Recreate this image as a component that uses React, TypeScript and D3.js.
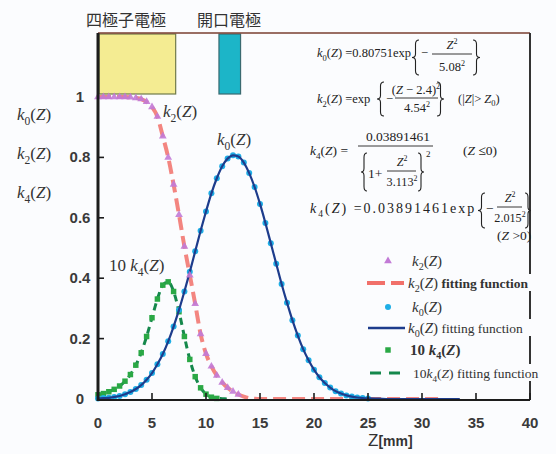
import React from "react";
import * as d3 from "d3";

// ---- data ----
const xTicks = [0, 5, 10, 15, 20, 25, 30, 35, 40];
const yTicks = [0, 0.2, 0.4, 0.6, 0.8, 1];
const yTickLabels = ["0", "0.2", "0.4", "0.6", "0.8", "1"];

// k2(Z) data points (pink triangles)
const k2Data: [number, number][] = [
  [0, 1], [0.5, 1], [1, 1], [1.5, 1], [2, 1], [2.5, 1], [3, 0.999], [3.5, 0.997],
  [4, 0.993], [4.5, 0.984], [5, 0.967], [5.5, 0.935], [6, 0.87], [6.5, 0.8],
  [7, 0.71], [7.5, 0.61], [8, 0.505], [8.5, 0.41], [9, 0.315], [9.5, 0.215],
  [10, 0.15], [10.5, 0.108], [11, 0.078], [11.5, 0.055], [12, 0.037], [12.5, 0.025], [13, 0.015],
];
const k2FitTail: [number, number][] = [[13.5, 0.008], [14, 0.003], [14.5, 0.001], [15, 0], [32, 0]];

// k0(Z) data points (cyan dots)
const k0Data: [number, number][] = [
  [0, 0.002], [0.5, 0.003], [1, 0.004], [1.5, 0.007], [2, 0.01], [2.5, 0.016], [3, 0.023],
  [3.5, 0.033], [4, 0.046], [4.5, 0.064], [5, 0.086], [5.5, 0.115], [6, 0.149], [6.5, 0.191],
  [7, 0.24], [7.5, 0.295], [8, 0.356], [8.5, 0.421], [9, 0.489], [9.5, 0.557], [10, 0.621],
  [10.5, 0.681], [11, 0.731], [11.5, 0.771], [12, 0.796], [12.5, 0.807], [13, 0.803],
  [13.5, 0.783], [14, 0.748], [14.5, 0.702], [15, 0.646], [15.5, 0.583], [16, 0.516],
  [16.5, 0.448], [17, 0.381], [17.5, 0.319], [18, 0.261], [18.5, 0.21], [19, 0.165],
  [19.5, 0.128], [20, 0.097], [20.5, 0.072], [21, 0.053], [21.5, 0.038], [22, 0.026],
  [22.5, 0.018], [23, 0.012], [23.5, 0.008], [24, 0.005], [24.5, 0.003], [25, 0.002],
];
const k0FitTail: [number, number][] = [[26, 0.001], [27, 0], [33.5, 0]];

// 10 k4(Z) data points (green squares)
const k4x10Data: [number, number][] = [
  [0, 0.014], [0.5, 0.018], [1, 0.024], [1.5, 0.032], [2, 0.043], [2.5, 0.059], [3, 0.081],
  [3.5, 0.112], [4, 0.153], [4.5, 0.207], [5, 0.269], [5.5, 0.331], [6, 0.377], [6.5, 0.388],
  [7, 0.356], [7.5, 0.289], [8, 0.207], [8.5, 0.131], [9, 0.074], [9.5, 0.037], [10, 0.016],
  [10.5, 0.006], [11, 0.002],
];
const k4x10FitTail: [number, number][] = [[11.5, 0.001], [12, 0]];

// electrodes drawn above the plot (Z ranges)
const quadElectrode: [number, number] = [0, 7.1];
const apertureElectrode: [number, number] = [11.2, 13.2];

const SERIF = "'Liberation Serif', 'DejaVu Serif', serif";
const SANS = "'Liberation Sans', Arial, sans-serif";
const CJK = "'Noto Sans CJK TC', 'Noto Sans CJK JP', sans-serif";

function brace(xl: number, xr: number, y0: number, y1: number, left: boolean) {
  const h = y1 - y0, m = (y0 + y1) / 2, xm = (xl + xr) / 2;
  if (left)
    return `M${xr},${y0} Q${xm},${y0} ${xm},${y0 + h * 0.12} L${xm},${m - h * 0.1} Q${xm},${m} ${xl},${m} Q${xm},${m} ${xm},${m + h * 0.1} L${xm},${y1 - h * 0.12} Q${xm},${y1} ${xr},${y1}`;
  return `M${xl},${y0} Q${xm},${y0} ${xm},${y0 + h * 0.12} L${xm},${m - h * 0.1} Q${xm},${m} ${xr},${m} Q${xm},${m} ${xm},${m + h * 0.1} L${xm},${y1 - h * 0.12} Q${xm},${y1} ${xl},${y1}`;
}

function KZ({ sub, fs }: { sub: string; fs: number }) {
  return (
    <>
      <tspan fontStyle="italic">k</tspan>
      <tspan dy={fs * 0.28} fontSize={fs * 0.68}>{sub}</tspan>
      <tspan dy={-fs * 0.28}>(</tspan>
      <tspan fontStyle="italic">Z</tspan>
      <tspan>)</tspan>
    </>
  );
}

// superscript placed at the end of a text
function Sup({ t, fs }: { t: string; fs: number }) {
  return <tspan dy={-fs * 0.4} fontSize={fs * 0.65}>{t}</tspan>;
}

export default function App() {
  const W = 556, H = 454;
  const x = d3.scaleLinear().domain([0, 40]).range([98, 530]);
  const y = d3.scaleLinear().domain([0, 1]).range([399, 97]);
  const top = 33;
  const line = d3.line<[number, number]>().x(d => x(d[0])).y(d => y(d[1])).curve(d3.curveMonotoneX);
  const tri = d3.symbol(d3.symbolTriangle, 26)()!;
  const sq = d3.symbol(d3.symbolSquare, 30)()!;

  const ink = "#222";
  const fs1 = 12.5, fs3 = 13.5;

  const redC = "#f1706a", pinkC = "#c27ad6", cyanC = "#1eaee6", blueC = "#1d3c8c", greenC = "#2aa845", greenD = "#15884c";

  const legendX = 388;
  const legendRows = [261, 283, 307, 328, 350, 373];

  return (
    <svg width={W} height={H} style={{ position: "fixed", left: 0, top: 0 }} xmlns="http://www.w3.org/2000/svg">
      <rect width={W} height={H} fill="#fbfcfe" />

      {/* electrode labels and boxes */}
      <text x={126} y={26} fontFamily={CJK} fontSize={16} fill="#333" textAnchor="middle">四極子電極</text>
      <text x={229} y={26} fontFamily={CJK} fontSize={16} fill="#333" textAnchor="middle">開口電極</text>
      <rect x={x(quadElectrode[0]) + 1} y={top + 1} width={x(quadElectrode[1]) - x(quadElectrode[0])} height={y(1) - top - 4}
        fill="#f4ec92" stroke="#6f7a4a" strokeWidth={1.2} />
      <rect x={x(apertureElectrode[0])} y={top + 1} width={x(apertureElectrode[1]) - x(apertureElectrode[0])} height={y(1) - top - 4}
        fill="#1cb5c8" stroke="#3a6a70" strokeWidth={1.2} />

      {/* frame */}
      <line x1={x(0)} x2={x(40)} y1={top} y2={top} stroke="#7a3f30" strokeWidth={1.6} />
      <line x1={x(40)} x2={x(40)} y1={top} y2={y(0) + 1} stroke="#333" strokeWidth={2} />

      {/* curves */}
      <path d={line([...k2Data, ...k2FitTail])!} fill="none" stroke={redC} strokeWidth={4} strokeDasharray="13 6" opacity={0.85} />
      <path d={line([...k4x10Data, ...k4x10FitTail])!} fill="none" stroke={greenD} strokeWidth={3} strokeDasharray="7 5" />
      {k4x10Data.map((d, i) => (
        <path key={"g" + i} d={sq} transform={`translate(${x(d[0])},${y(d[1])})`} fill={greenC} />
      ))}
      {k0Data.map((d, i) => (
        <circle key={"c" + i} cx={x(d[0])} cy={y(d[1])} r={3} fill={cyanC} />
      ))}
      <path d={line([...k0Data, ...k0FitTail])!} fill="none" stroke={blueC} strokeWidth={2.2} />
      {k2Data.map((d, i) => (
        <path key={"t" + i} d={tri} transform={`translate(${x(d[0])},${y(d[1])})`} fill={pinkC} opacity={0.9} />
      ))}

      {/* axes */}
      <line x1={x(0)} x2={x(0)} y1={top} y2={y(0) + 2} stroke="#1c1c1c" strokeWidth={3} />
      <line x1={x(0)} x2={x(40)} y1={y(0) + 1} y2={y(0) + 1} stroke="#1c1c1c" strokeWidth={2} />
      {xTicks.map(t => (
        <g key={"xt" + t}>
          <line x1={x(t)} x2={x(t)} y1={y(0) + 1} y2={y(0) - 6} stroke="#1c1c1c" strokeWidth={1.6} />
          <text x={x(t)} y={428} fontFamily={SANS} fontWeight="bold" fontSize={15} fill="#3a3a3a" textAnchor="middle">{t}</text>
        </g>
      ))}
      {yTicks.map((t, i) => (
        <g key={"yt" + t}>
          {i > 0 && i < yTicks.length - 1 && (
            <line x1={x(0)} x2={x(0) + 6} y1={y(t)} y2={y(t)} stroke="#1c1c1c" strokeWidth={1.6} />
          )}
          <text x={80} y={y(t) + 5} fontFamily={SANS} fontWeight="bold" fontSize={15} fill="#3a3a3a" textAnchor="middle">{yTickLabels[i]}</text>
        </g>
      ))}
      <text x={368} y={446} fontFamily={SANS} fill="#333">
        <tspan fontSize={17}>Z</tspan>
        <tspan fontSize={14} fontWeight="bold">[mm]</tspan>
      </text>

      {/* y-axis labels */}
      {["0", "2", "4"].map((s, i) => (
        <text key={"yl" + s} x={17} y={[120, 159, 198][i]} fontFamily={SERIF} fontSize={17} fill="#333">
          <KZ sub={s} fs={17} />
        </text>
      ))}

      {/* curve labels */}
      <text x={163} y={117} fontFamily={SERIF} fontSize={17} fill="#333"><KZ sub="2" fs={17} /></text>
      <text x={217} y={145} fontFamily={SERIF} fontSize={17} fill="#333"><KZ sub="0" fs={17} /></text>
      <text x={109} y={271} fontFamily={SERIF} fontSize={17} fill="#333"><tspan>10 </tspan><KZ sub="4" fs={17} /></text>

      {/* formulas */}
      <g fontFamily={SERIF} fill={ink}>
        {/* row 1 */}
        <text x={317} y={57} fontSize={fs1}><KZ sub="0" fs={fs1} /><tspan> =0.80751exp</tspan></text>
        <path d={brace(412, 419, 40, 75, true)} fill="none" stroke={ink} strokeWidth={1.1} />
        <text x={421} y={57} fontSize={fs1}>−</text>
        <text x={452} y={49} fontSize={fs1} textAnchor="middle"><tspan fontStyle="italic">Z</tspan><Sup t="2" fs={fs1} /></text>
        <line x1={432} x2={472} y1={54} y2={54} stroke={ink} strokeWidth={0.9} />
        <text x={452} y={71} fontSize={fs1} textAnchor="middle"><tspan>5.08</tspan><Sup t="2" fs={fs1} /></text>
        <path d={brace(473, 480, 40, 75, false)} fill="none" stroke={ink} strokeWidth={1.1} />

        {/* row 2 */}
        <text x={317} y={103} fontSize={fs1}><KZ sub="2" fs={fs1} /><tspan> =exp</tspan></text>
        <path d={brace(377, 384, 82, 116, true)} fill="none" stroke={ink} strokeWidth={1.1} />
        <text x={386} y={103} fontSize={fs1}>−</text>
        <text x={416} y={94} fontSize={fs1} textAnchor="middle"><tspan>(</tspan><tspan fontStyle="italic">Z</tspan><tspan> − 2.4)</tspan><Sup t="2" fs={fs1} /></text>
        <line x1={395} x2={438} y1={98} y2={98} stroke={ink} strokeWidth={0.9} />
        <text x={417} y={112} fontSize={fs1} textAnchor="middle"><tspan>4.54</tspan><Sup t="2" fs={fs1} /></text>
        <path d={brace(437, 444, 82, 116, false)} fill="none" stroke={ink} strokeWidth={1.1} />
        <text x={458} y={103} fontSize={fs1}><tspan>(|</tspan><tspan fontStyle="italic">Z</tspan><tspan>|&gt; </tspan><tspan fontStyle="italic">Z</tspan><tspan dy={3} fontSize={fs1 * 0.68}>0</tspan><tspan dy={-3}>)</tspan></text>

        {/* row 3 */}
        <text x={310} y={155} fontSize={fs3}><KZ sub="4" fs={fs3} /><tspan> =</tspan></text>
        <text x={398} y={141} fontSize={fs3} textAnchor="middle">0.03891461</text>
        <line x1={358} x2={433} y1={146} y2={146} stroke={ink} strokeWidth={0.9} />
        <path d={brace(361, 367, 153, 191, true)} fill="none" stroke={ink} strokeWidth={1.1} />
        <text x={368} y={178} fontSize={fs3}>1+</text>
        <text x={402} y={166} fontSize={fs3 * 0.9} textAnchor="middle"><tspan fontStyle="italic">Z</tspan><Sup t="2" fs={fs3 * 0.9} /></text>
        <line x1={387} x2={416} y1={171} y2={171} stroke={ink} strokeWidth={0.9} />
        <text x={402} y={186} fontSize={fs3 * 0.9} textAnchor="middle"><tspan>3.113</tspan><Sup t="2" fs={fs3 * 0.9} /></text>
        <path d={brace(418, 424, 153, 191, false)} fill="none" stroke={ink} strokeWidth={1.1} />
        <text x={426} y={157} fontSize={9}>2</text>
        <text x={463} y={155} fontSize={fs3}><tspan>(</tspan><tspan fontStyle="italic">Z</tspan><tspan> ≤0)</tspan></text>

        {/* row 4 */}
        <text x={310} y={213} fontSize={14} letterSpacing={2}><KZ sub="4" fs={14} /><tspan> =0.03891461exp</tspan></text>
        <path d={brace(478, 485, 193, 228, true)} fill="none" stroke={ink} strokeWidth={1.1} />
        <text x={486} y={213} fontSize={fs3}>−</text>
        <text x={510} y={202} fontSize={fs3 * 0.9} textAnchor="middle"><tspan fontStyle="italic">Z</tspan><Sup t="2" fs={fs3 * 0.9} /></text>
        <line x1={497} x2={522} y1={207} y2={207} stroke={ink} strokeWidth={0.9} />
        <text x={510} y={222} fontSize={fs3 * 0.9} textAnchor="middle"><tspan>2.015</tspan><Sup t="2" fs={fs3 * 0.9} /></text>
        <path d={brace(525, 531, 193, 228, false)} fill="none" stroke={ink} strokeWidth={1.1} />
        <text x={497} y={240} fontSize={fs3}><tspan>(</tspan><tspan fontStyle="italic">Z</tspan><tspan> &gt;0)</tspan></text>
      </g>

      {/* legend */}
      <g fontFamily={SERIF} fill="#333">
        {[legendRows[1], legendRows[3], legendRows[5]].map((ry, i) => (
          <rect key={"lb" + i} x={406} y={ry - 9} width={[134, 137, 142][i]} height={17} fill="#fbfcfe" />
        ))}
        <path d={tri} transform={`translate(${legendX},${legendRows[0]})`} fill={pinkC} />
        <text x={412} y={legendRows[0] + 5} fontSize={15}><KZ sub="2" fs={15} /></text>

        <line x1={367} x2={404} y1={legendRows[1]} y2={legendRows[1]} stroke={redC} strokeWidth={4} strokeDasharray="18 6" />
        <text x={408} y={legendRows[1] + 5} fontSize={15}><KZ sub="2" fs={15} /><tspan fontSize={13.5} fontWeight="bold"> fitting function</tspan></text>

        <circle cx={legendX} cy={legendRows[2]} r={3} fill={cyanC} />
        <text x={412} y={legendRows[2] + 5} fontSize={15}><KZ sub="0" fs={15} /></text>

        <line x1={368} x2={405} y1={legendRows[3]} y2={legendRows[3]} stroke={blueC} strokeWidth={2.5} />
        <text x={408} y={legendRows[3] + 5} fontSize={15}><KZ sub="0" fs={15} /><tspan fontSize={13.5}> fitting function</tspan></text>

        <path d={sq} transform={`translate(${legendX},${legendRows[4]})`} fill={greenC} />
        <text x={410} y={legendRows[4] + 5} fontSize={15} fontWeight="bold"><tspan>10 </tspan><KZ sub="4" fs={15} /></text>

        <line x1={370} x2={403} y1={legendRows[5]} y2={legendRows[5]} stroke={greenD} strokeWidth={3} strokeDasharray="11 8" />
        <text x={413} y={legendRows[5] + 5} fontSize={13.5}><tspan>10</tspan><KZ sub="4" fs={13.5} /><tspan> fitting function</tspan></text>
      </g>
    </svg>
  );
}
